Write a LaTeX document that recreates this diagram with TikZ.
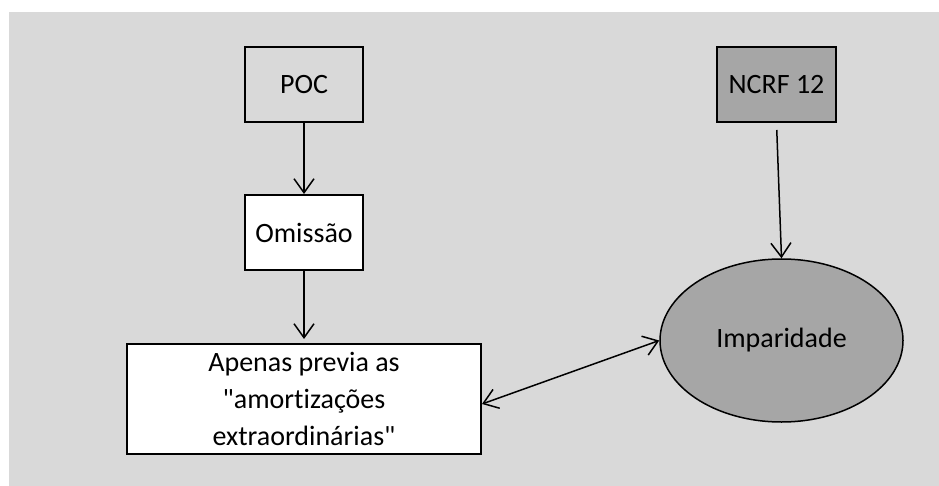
\documentclass[tikz,border=0pt]{standalone}
\usepackage{fontspec}
\setmainfont{Carlito}[Ligatures={TeXOff}, RawFeature={-liga;-clig;-calt;-dlig}]
\usetikzlibrary{arrows.meta,shapes.geometric}
\definecolor{panel}{HTML}{D9D9D9}
\definecolor{darkfill}{HTML}{A6A6A6}
\begin{document}
\begin{tikzpicture}[x=1pt,y=1pt,
  every node/.style={font=\fontsize{28}{37}\selectfont, text=black},
  box/.style={draw=black, line width=2pt, inner sep=0pt, align=center},
  oval/.style={ellipse, draw=black, line width=1.5pt, fill=darkfill, inner sep=0pt},
  link/.style={line width=1.5pt, -{Straight Barb[length=14pt,width=20pt,line width=1.5pt]}},
  duplex/.style={line width=1.5pt, {Straight Barb[length=14pt,width=20pt,line width=1.5pt]}-{Straight Barb[length=14pt,width=20pt,line width=1.5pt]}}]
  \useasboundingbox (0,0) rectangle (939,-486);
  \fill[panel] (9,-12) rectangle (939,-486);

  \node[box, minimum width=118pt, minimum height=75pt] (poc) at (304,-84.5) {POC};
  \node[box, fill=white, minimum width=118pt, minimum height=75pt] (omi) at (304,-232.5) {Omissão};
  \node[box, fill=darkfill, minimum width=119pt, minimum height=75pt] (ncrf) at (776.5,-84.5) {NCRF 12};
  \node[box, fill=white, minimum width=354pt, minimum height=110pt] (prev) at (304,-399)
    {Apenas previa as\\"amort\kern0pt izações\\extraordinárias"};
  \node[oval, minimum width=243pt, minimum height=163pt] (imp) at (781.5,-340.5) {Imparidade};

  \draw[link] (poc) -- (omi);
  \draw[link, shorten >=4pt] (omi) -- (prev);
  \draw[link, shorten <=7pt] (ncrf.south) -- (imp.north);
  \draw[duplex] ([yshift=-5pt]prev.east) -- (imp.west);
\end{tikzpicture}
\end{document}
